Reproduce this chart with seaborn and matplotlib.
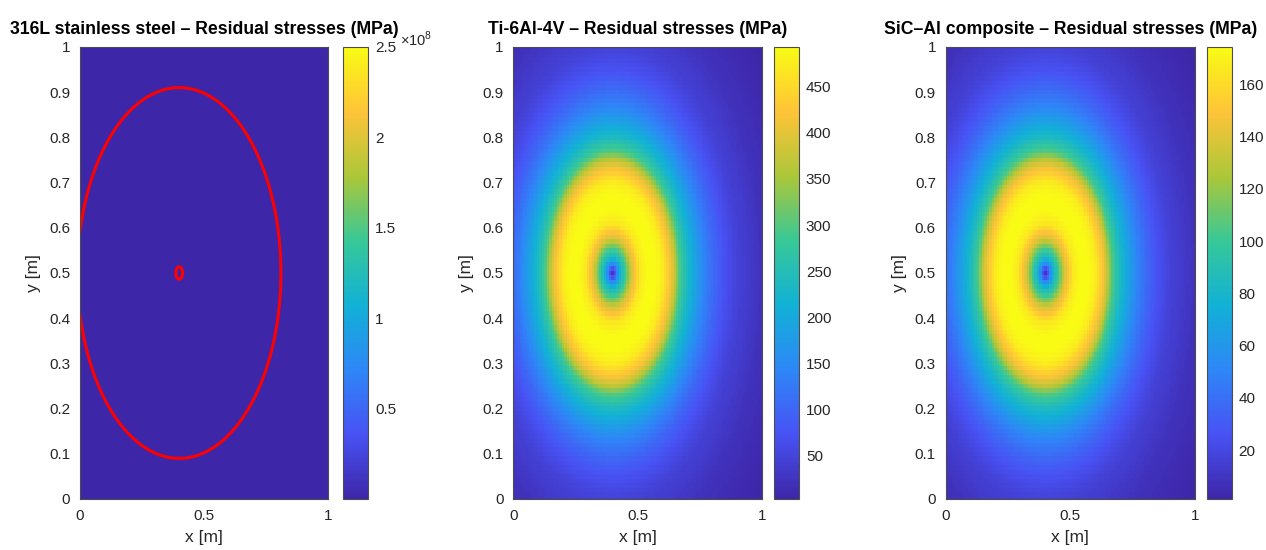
import numpy as np
import matplotlib
matplotlib.use("Agg")
import matplotlib.pyplot as plt
from matplotlib.colors import LinearSegmentedColormap
import seaborn as sns

# ── data ──────────────────────────────────────────────────────────────────
# heat source centre [m]
source_x = 0.4
source_y = 0.5

# normalised stress level vs distance from the source centre
radius_m = [0.0, 0.01, 0.02, 0.035, 0.055, 0.075, 0.09, 0.11, 0.14, 0.17,
            0.20, 0.23, 0.25, 0.27, 0.30, 0.33, 0.37, 0.41, 0.45, 0.50,
            0.60, 0.70, 0.78]
stress_level = [0.05, 0.14, 0.30, 0.47, 0.60, 0.78, 0.85, 0.95, 1.0, 1.0,
                0.96, 0.85, 0.75, 0.60, 0.48, 0.39, 0.28, 0.20, 0.14, 0.09,
                0.04, 0.015, 0.0]

materials = ["316L stainless steel", "Ti-6Al-4V", "SiC\u2013Al composite"]
stress_min = [0.0, 3.3, 1.3]        # MPa
stress_max = [520.0, 493.0, 174.3]  # MPa
steel_clim = [0.0, 2.5e8]           # colour limits of the steel map
steel_contour = 0.2                 # normalised level of the red contour

cbar_ticks = [
    [0.5e8, 1.0e8, 1.5e8, 2.0e8, 2.5e8],
    [50, 100, 150, 200, 250, 300, 350, 400, 450],
    [20, 40, 60, 80, 100, 120, 140, 160],
]
x_ticks = [0, 0.5, 1]
y_ticks = [0, 0.1, 0.2, 0.3, 0.4, 0.5, 0.6, 0.7, 0.8, 0.9, 1]

# parula-like colormap
parula_colors = [
    (0.2422, 0.1504, 0.6603), (0.2810, 0.3228, 0.9579), (0.1786, 0.5289, 0.9682),
    (0.0689, 0.6948, 0.8394), (0.2161, 0.7843, 0.5923), (0.6720, 0.7793, 0.2227),
    (0.9970, 0.7659, 0.2199), (0.9769, 0.9839, 0.0805),
]
parula = LinearSegmentedColormap.from_list("parula", parula_colors, N=256)


def campo(n):
    g = np.linspace(0, 1, n)
    X, Y = np.meshgrid(g, g)
    r = np.hypot(X - source_x, Y - source_y)
    return g, np.interp(r, radius_m, stress_level)


def fmt(v):
    return f"{v:g}"


sns.set_style("ticks")
plt.rcParams["font.family"] = ["Liberation Sans", "DejaVu Sans"]
plt.rcParams["mathtext.fontset"] = "custom"
plt.rcParams["mathtext.rm"] = "Liberation Sans"
plt.rcParams["text.color"] = "#262626"
plt.rcParams["axes.labelcolor"] = "#262626"
plt.rcParams["xtick.color"] = "#262626"
plt.rcParams["ytick.color"] = "#262626"

W, H = 1266, 550
fig = plt.figure(figsize=(W / 100, H / 100), dpi=100)

ax_left = [80, 513.3, 945.7]
ax_w = [248, 248.4, 249.3]
cb_left = [343.3, 774, 1206.7]
top_px, bot_px = 47, 499

N = 101
g, nivel = campo(N)

for i, nome in enumerate(materials):
    ax = fig.add_axes([ax_left[i] / W, (H - bot_px) / H, ax_w[i] / W, (bot_px - top_px) / H])
    cax = fig.add_axes([cb_left[i] / W, (H - bot_px) / H, 25 / W, (bot_px - top_px) / H])

    dados = stress_min[i] + nivel * (stress_max[i] - stress_min[i])
    if i == 0:
        vmin, vmax = steel_clim
    else:
        vmin, vmax = dados.min(), dados.max()

    sns.heatmap(dados, ax=ax, cmap=parula, vmin=vmin, vmax=vmax, cbar_ax=cax,
                xticklabels=False, yticklabels=False)

    # index space of the heatmap: node value v sits at v*(N-1)+0.5
    to_idx = lambda v: np.asarray(v) * (N - 1) + 0.5
    ax.set_xlim(to_idx(0), to_idx(1))
    ax.set_ylim(to_idx(0), to_idx(1))
    ax.set_xticks(to_idx(x_ticks))
    ax.set_xticklabels([fmt(t) for t in x_ticks], rotation=0)
    ax.set_yticks(to_idx(y_ticks))
    ax.set_yticklabels([fmt(t) for t in y_ticks], rotation=0)

    if i == 0:
        gf, nivel_f = campo(401)
        ax.contour(to_idx(gf), to_idx(gf), nivel_f, levels=[steel_contour],
                   colors="red", linewidths=2.2)

    ax.tick_params(direction="in", top=True, right=True, length=4, width=0.6,
                   labelsize=11, pad=7, color="#262626")
    for s in ax.spines.values():
        s.set_visible(True)
        s.set_linewidth(0.8)
        s.set_color("#4d4d4d")

    ax.set_xlabel("x [m]", fontsize=12.5, labelpad=5)
    ax.set_ylabel("y [m]", fontsize=12.5, labelpad=6)
    ax.set_title(f"{nome} \u2013 Residual stresses (MPa)", fontsize=12.7,
                 fontweight="bold", color="black", pad=9.5)

    cb = ax.collections[0].colorbar
    cb.set_ticks(cbar_ticks[i])
    if i == 0:
        cb.set_ticklabels([fmt(t / 1e8) for t in cbar_ticks[i]])
    else:
        cb.set_ticklabels([fmt(t) for t in cbar_ticks[i]])
    cax.tick_params(direction="in", right=True, left=False, length=4, width=0.6,
                    labelsize=11, pad=5, color="#262626")
    cb.outline.set_visible(True)
    cb.outline.set_linewidth(0.8)
    cb.outline.set_edgecolor("#4d4d4d")

fig.text(400 / W, (H - 46) / H, r"$\times10^{8}$", fontsize=10.5, ha="left", va="baseline")

fig.savefig("out.png", dpi=100)
